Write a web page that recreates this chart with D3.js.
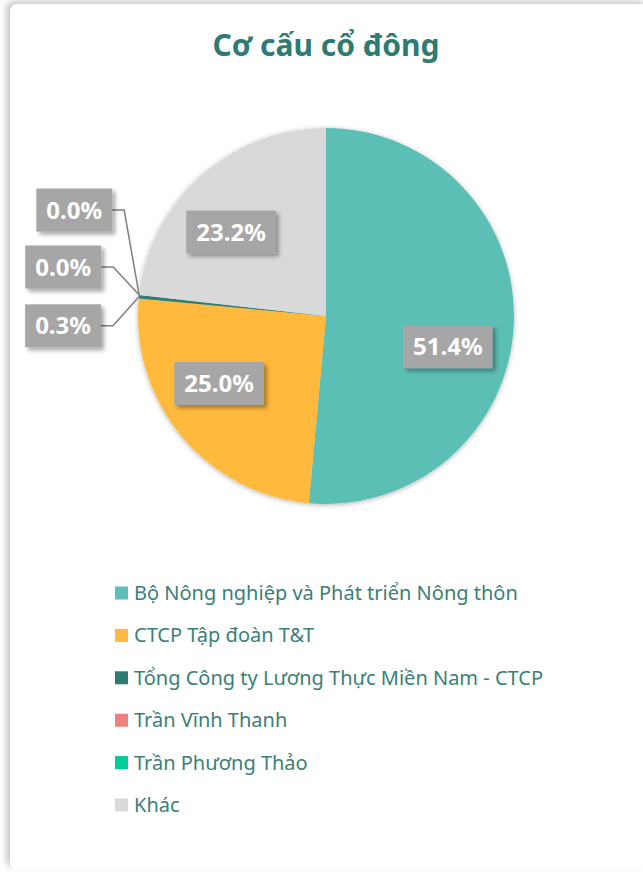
<!DOCTYPE html>
<html>
<head>
<meta charset="utf-8">
<script src="https://cdn.jsdelivr.net/npm/d3@7"></script>
<style>
  html, body { margin: 0; padding: 0; background: #fff; }
  svg { display: block; font-family: "Noto Sans", "Open Sans", sans-serif; }
</style>
</head>
<body>
<svg id="chart" width="643" height="872"></svg>
<script>
// data
var categories = [
  "Bộ Nông nghiệp và Phát triển Nông thôn",
  "CTCP Tập đoàn T&T",
  "Tổng Công ty Lương Thực Miền Nam - CTCP",
  "Trần Vĩnh Thanh",
  "Trần Phương Thảo",
  "Khác"
];
var values = [51.4, 25.0, 0.3, 0.0, 0.0, 23.2];
var colors = ["#5bbfb6", "#ffb93e", "#2e7b73", "#f08080", "#00cc99", "#d9d9d9"];
var title = "Cơ cấu cổ đông";

var svg = d3.select("#chart"),
    width = +svg.attr("width"),
    height = +svg.attr("height"),
    cx = 326, cy = 316, radius = 188;

var defs = svg.append("defs");

var cardShadow = defs.append("filter").attr("id", "cardShadow")
    .attr("x", "-5%").attr("y", "-5%").attr("width", "110%").attr("height", "110%");
cardShadow.append("feDropShadow")
    .attr("dx", -4).attr("dy", -3).attr("stdDeviation", 3)
    .attr("flood-color", "#000").attr("flood-opacity", 0.22);

var pieShadow = defs.append("filter").attr("id", "pieShadow")
    .attr("x", "-10%").attr("y", "-10%").attr("width", "120%").attr("height", "120%");
pieShadow.append("feDropShadow")
    .attr("dx", 0).attr("dy", 1).attr("stdDeviation", 2.5)
    .attr("flood-color", "#000").attr("flood-opacity", 0.3);

var boxShadow = defs.append("filter").attr("id", "boxShadow")
    .attr("x", "-20%").attr("y", "-30%").attr("width", "150%").attr("height", "170%");
boxShadow.append("feDropShadow")
    .attr("dx", 3).attr("dy", 3).attr("stdDeviation", 2)
    .attr("flood-color", "#000").attr("flood-opacity", 0.35);

// card
svg.append("rect")
    .attr("x", 10).attr("y", 4)
    .attr("width", 640).attr("height", 866)
    .attr("rx", 8)
    .attr("fill", "#fff")
    .attr("filter", "url(#cardShadow)");

// title
svg.append("text")
    .attr("x", cx).attr("y", 56)
    .attr("text-anchor", "middle")
    .attr("font-size", 30)
    .attr("font-weight", "bold")
    .attr("fill", "#2e7b73")
    .text(title);

var data = categories.map(function(c, i) { return {name: c, value: values[i], color: colors[i]}; });

var pie = d3.pie().sort(null).value(function(d) { return d.value; });
var arcs = pie(data);

var arc = d3.arc().innerRadius(0).outerRadius(radius);
var labelArc = d3.arc().innerRadius(radius * 0.67).outerRadius(radius * 0.67);

var g = svg.append("g").attr("transform", "translate(" + cx + "," + cy + ")");

g.append("g").attr("filter", "url(#pieShadow)")
  .selectAll("path")
  .data(arcs)
  .enter().append("path")
    .attr("d", arc)
    .attr("fill", function(d) { return d.data.color; });

function fmt(v) { return d3.format(".1f")(v) + "%"; }

function addLabel(parent, x, y, txt) {
    var lg = parent.append("g").attr("transform", "translate(" + x + "," + y + ")");
    var rect = lg.append("rect").attr("fill", "#a6a6a6").attr("filter", "url(#boxShadow)");
    var t = lg.append("text")
        .attr("text-anchor", "middle")
        .attr("dy", "0.36em")
        .attr("font-size", 24)
        .attr("font-weight", "bold")
        .attr("fill", "#fff")
        .text(txt);
    var w = t.node().getComputedTextLength() + 20, h = 43;
    rect.attr("x", -w / 2).attr("y", -h / 2).attr("width", w).attr("height", h);
    return w;
}

// big slices: inside labels (Excel best-fit style nudges)
var inside = arcs.filter(function(d) { return d.data.value >= 5; });
var nudge = {0: [-4, 25], 1: [-10, -13], 5: [-11, 10]};
inside.forEach(function(d) {
    var c = labelArc.centroid(d), n = nudge[d.index] || [0, 0];
    addLabel(g, c[0] + n[0], c[1] + n[1], fmt(d.data.value));
});

// tiny slices: outside labels stacked to the left with leader lines
var outside = arcs.filter(function(d) { return d.data.value < 5; });
var lineGroup = g.append("g");
outside.forEach(function(d, i) {
    var a = (d.startAngle + d.endAngle) / 2;
    var ax = Math.sin(a) * radius, ay = -Math.cos(a) * radius;
    var ly = ay + 29 - i * 57;
    var elbowX = ax - 26 + (i === 2 ? 11 : 0);
    var boxRight = elbowX - 12;
    lineGroup.append("polyline")
        .attr("points", [[ax, ay], [elbowX, ly], [boxRight, ly]].map(function(p) { return p.join(","); }).join(" "))
        .attr("fill", "none")
        .attr("stroke", "#7f7f7f")
        .attr("stroke-width", 1.5);
    var tmp = g.append("g");
    var w = addLabel(tmp, 0, 0, fmt(d.data.value));
    tmp.attr("transform", "translate(" + (boxRight - w / 2) + "," + ly + ")");
});

// legend
var legend = svg.append("g").attr("transform", "translate(115,593)");
var item = legend.selectAll("g")
    .data(data)
    .enter().append("g")
    .attr("transform", function(d, i) { return "translate(0," + (i * 42.4) + ")"; });
item.append("rect")
    .attr("x", 0).attr("y", -6.5)
    .attr("width", 13).attr("height", 13)
    .attr("fill", function(d) { return d.color; });
item.append("text")
    .attr("x", 19).attr("dy", "0.35em")
    .attr("font-size", 20)
    .attr("fill", "#3a8078")
    .text(function(d) { return d.name; });
</script>
</body>
</html>
